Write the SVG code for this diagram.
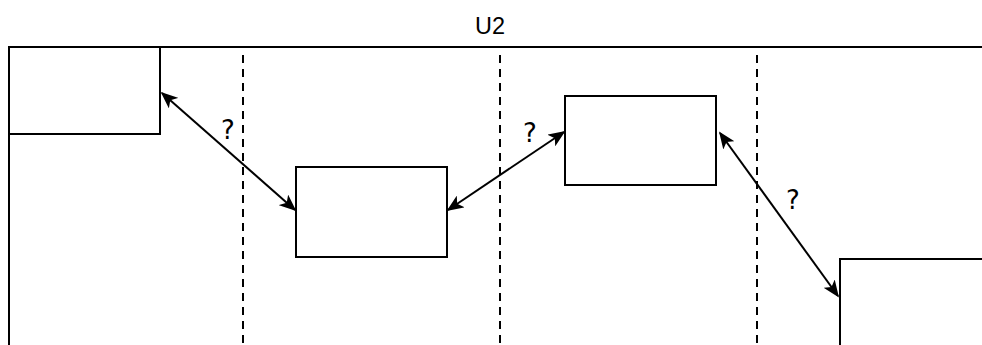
<svg xmlns="http://www.w3.org/2000/svg" width="982" height="345" viewBox="0 0 982 345">
<defs>
<marker id="ah" viewBox="0 0 10 10" refX="9" refY="5" markerWidth="17" markerHeight="14" orient="auto-start-reverse" markerUnits="userSpaceOnUse" preserveAspectRatio="none">
<path d="M0,0 L10,5 L0,10 L2.5,5 Z" fill="#000"/>
</marker>
</defs>
<style>
.box{fill:#fff;stroke:#000;stroke-width:2}
.ln{stroke:#000;stroke-width:2;fill:none}
.dash{stroke:#000;stroke-width:2;stroke-dasharray:8,6;fill:none}
.conn{stroke:#000;stroke-width:2;fill:none;marker-start:url(#ah);marker-end:url(#ah)}
.lbl{font-family:"DejaVu Sans","Liberation Sans",sans-serif;font-size:26px;fill:#000;text-anchor:middle}
.ttl{font-family:"Liberation Sans",sans-serif;font-size:24px;fill:#000;text-anchor:middle}
</style>
<rect width="982" height="345" fill="#fff"/>
<text class="ttl" x="490" y="34" textLength="30" lengthAdjust="spacingAndGlyphs">U2</text>
<g id="frame">
<line class="ln" x1="8" y1="47" x2="982" y2="47"/>
<line class="ln" x1="9" y1="47" x2="9" y2="345"/>
<line class="dash" x1="243" y1="55" x2="243" y2="345"/>
<line class="dash" x1="500" y1="55" x2="500" y2="345"/>
<line class="dash" x1="757" y1="55" x2="757" y2="345"/>
</g>
<g id="node1"><rect class="box" x="9" y="47" width="151" height="87"/></g>
<g id="node2"><rect class="box" x="296" y="167" width="151" height="90"/></g>
<g id="node3"><rect class="box" x="565" y="96" width="151" height="89"/></g>
<g id="node4"><rect class="box" x="840" y="259" width="150" height="100"/></g>
<g id="connectors">
<line class="conn" x1="162" y1="93" x2="295" y2="210"/>
<line class="conn" x1="448" y1="210" x2="564" y2="132"/>
<line class="conn" x1="720" y1="133" x2="838" y2="296"/>
<text class="lbl" x="228" y="139">?</text>
<text class="lbl" x="530" y="142">?</text>
<text class="lbl" x="793" y="209">?</text>
</g>
</svg>
